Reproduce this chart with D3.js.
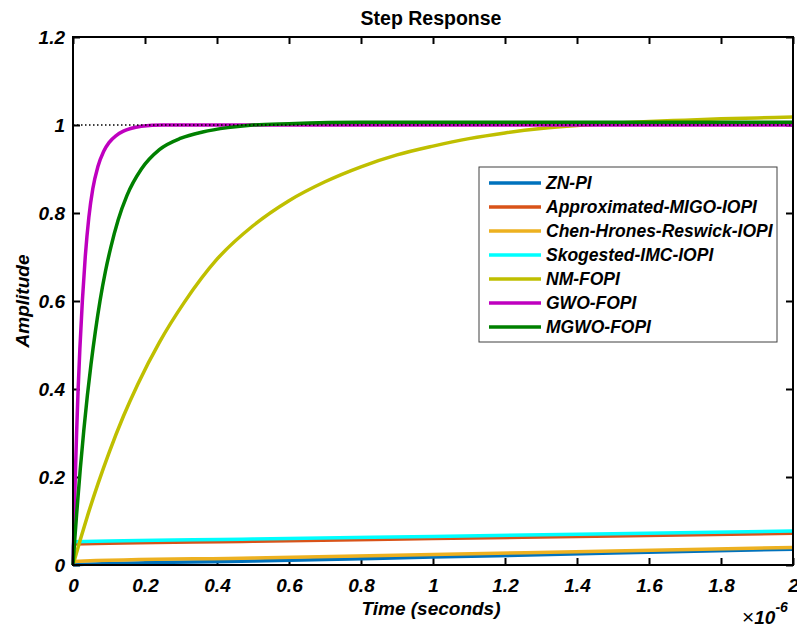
<!DOCTYPE html>
<html>
<head>
<meta charset="utf-8">
<script src="https://cdn.jsdelivr.net/npm/d3@7"></script>
<style>
  body { margin: 0; background: #fff; }
  svg text { font-family: "Liberation Sans", Arial, sans-serif; }
</style>
</head>
<body>
<div id="chart"></div>
<script>
// time in units of 1e-6 s
const lowTime = [0, 0.002, 0.5, 1, 1.5, 2];
const znPI    = [0, 0.0005, 0.009, 0.018, 0.027, 0.036];
const migoPI  = [0, 0.048, 0.054, 0.060, 0.066, 0.072];
const chrPI   = [0, 0.008, 0.016, 0.024, 0.032, 0.040];
const skogPI  = [0, 0.053, 0.059, 0.065, 0.071, 0.077];

const nmTime = [0, 0.02, 0.04, 0.07, 0.1, 0.14, 0.18, 0.24, 0.31, 0.4, 0.5, 0.6, 0.7, 0.8, 0.9, 1.0, 1.1, 1.2, 1.3, 1.4, 1.5, 1.6, 1.7, 1.8, 1.9, 2.0];
const nmFOPI = [0, 0.057, 0.111, 0.186, 0.255, 0.338, 0.411, 0.506, 0.598, 0.695, 0.771, 0.828, 0.871, 0.905, 0.932, 0.952, 0.969, 0.982, 0.992, 0.999, 1.004, 1.008, 1.011, 1.014, 1.016, 1.018];

const gwoTime = [0, 0.003, 0.006, 0.01, 0.014, 0.019, 0.026, 0.034, 0.044, 0.055, 0.069, 0.085, 0.1, 0.12, 0.14, 0.16, 0.19, 0.25, 0.4, 1, 2];
const gwoFOPI = [0, 0.1, 0.19, 0.3, 0.394, 0.49, 0.6, 0.7, 0.79, 0.855, 0.905, 0.94, 0.96, 0.976, 0.986, 0.992, 0.997, 1.0, 1.0, 1.0, 1.0];

const mgwoTime = [0, 0.004, 0.01, 0.02, 0.03, 0.04, 0.05, 0.062, 0.075, 0.09, 0.105, 0.125, 0.15, 0.19, 0.24, 0.3, 0.36, 0.43, 0.5, 0.6, 0.8, 1.0, 1.5, 2.0];
const mgwoFOPI = [0, 0.048, 0.115, 0.216, 0.306, 0.386, 0.456, 0.53, 0.6, 0.667, 0.722, 0.783, 0.84, 0.9, 0.944, 0.97, 0.984, 0.994, 1.0, 1.003, 1.006, 1.006, 1.006, 1.006];

const names = ["ZN-PI", "Approximated-MIGO-IOPI", "Chen-Hrones-Reswick-IOPI", "Skogested-IMC-IOPI", "NM-FOPI", "GWO-FOPI", "MGWO-FOPI"];
const colors = ["#0072BD", "#D95319", "#EDB120", "#00FFFF", "#BFBF00", "#BF00BF", "#008000"];

const xTicks = [0, 0.2, 0.4, 0.6, 0.8, 1, 1.2, 1.4, 1.6, 1.8, 2];
const xTickLabels = ["0", "0.2", "0.4", "0.6", "0.8", "1", "1.2", "1.4", "1.6", "1.8", "2"];
const yTicks = [0, 0.2, 0.4, 0.6, 0.8, 1, 1.2];
const yTickLabels = ["0", "0.2", "0.4", "0.6", "0.8", "1", "1.2"];

const series = [
  {t: lowTime, v: znPI},
  {t: lowTime, v: migoPI},
  {t: lowTime, v: chrPI},
  {t: lowTime, v: skogPI},
  {t: nmTime, v: nmFOPI},
  {t: gwoTime, v: gwoFOPI},
  {t: mgwoTime, v: mgwoFOPI}
];

const W = 797, H = 628;
const margin = {left: 73, right: 793, top: 37, bottom: 565};

const svg = d3.select("#chart").append("svg")
    .attr("width", W).attr("height", H);

const x = d3.scaleLinear().domain([0, 2]).range([margin.left, margin.right]);
const y = d3.scaleLinear().domain([0, 1.2]).range([margin.bottom, margin.top]);

const font = "bold italic 19px 'Liberation Sans', Arial, sans-serif";

// axes (ticks inward)
svg.append("g").attr("transform", `translate(0,${margin.bottom})`)
    .call(d3.axisBottom(x).tickValues(xTicks).tickSizeInner(-7).tickSizeOuter(0).tickPadding(14)
      .tickFormat((d, i) => xTickLabels[i]));
svg.append("g").attr("transform", `translate(${margin.left},0)`)
    .call(d3.axisLeft(y).tickValues(yTicks).tickSizeInner(-7).tickSizeOuter(0).tickPadding(8)
      .tickFormat((d, i) => yTickLabels[i]));
svg.append("g").attr("transform", `translate(0,${margin.top})`)
    .call(d3.axisTop(x).tickValues(xTicks).tickSizeInner(-7).tickSizeOuter(0).tickFormat(""));
svg.append("g").attr("transform", `translate(${margin.right},0)`)
    .call(d3.axisRight(y).tickValues(yTicks).tickSizeInner(-7).tickSizeOuter(0).tickFormat(""));

svg.selectAll(".domain").remove();
svg.selectAll(".tick line").attr("stroke", "#000").attr("stroke-width", 2);
svg.selectAll(".tick text").style("font", font).attr("fill", "#000");

// curves
const line = d3.line()
    .x(d => x(d[0]))
    .y(d => y(d[1]))
    .curve(d3.curveMonotoneX);

series.forEach((s, i) => {
  const pts = s.t.map((t, j) => [t, s.v[j]]);
  svg.append("path")
      .datum(pts)
      .attr("d", line)
      .attr("fill", "none")
      .attr("stroke", colors[i])
      .attr("stroke-width", 3.5);
});

// steady-state reference
svg.append("line")
    .attr("x1", x(0)).attr("x2", x(2))
    .attr("y1", y(1)).attr("y2", y(1))
    .attr("stroke", "#000").attr("stroke-width", 1.5)
    .attr("stroke-dasharray", "1.5,2.5");

// box
svg.append("rect")
    .attr("x", margin.left).attr("y", margin.top)
    .attr("width", margin.right - margin.left).attr("height", margin.bottom - margin.top)
    .attr("fill", "none").attr("stroke", "#000").attr("stroke-width", 2);

// titles
svg.append("text")
    .attr("x", (margin.left + margin.right) / 2 - 2).attr("y", 25)
    .attr("text-anchor", "middle")
    .style("font", "bold 19.5px 'Liberation Sans', Arial, sans-serif")
    .text("Step Response");

svg.append("text")
    .attr("x", (margin.left + margin.right) / 2 - 2).attr("y", 615)
    .attr("text-anchor", "middle")
    .style("font", font)
    .text("Time (seconds)");

svg.append("text")
    .attr("transform", `translate(29,${(margin.top + margin.bottom) / 2}) rotate(-90)`)
    .attr("text-anchor", "middle")
    .style("font", font)
    .text("Amplitude");

const exp = svg.append("text")
    .attr("x", 742).attr("y", 624)
    .style("font", font);
exp.append("tspan").style("font-weight", "normal").style("font-style", "normal").style("font-size", "21px").text("\u00d7");
exp.append("tspan").text("10");
exp.append("tspan").attr("dy", -12).style("font-size", "14px").text("-6");

// legend
const lg = svg.append("g");
lg.append("rect")
    .attr("x", 479).attr("y", 167)
    .attr("width", 298).attr("height", 175)
    .attr("fill", "#fff").attr("stroke", "#404040").attr("stroke-width", 1);

names.forEach((n, i) => {
  const ly = 183 + i * 24;
  lg.append("line")
      .attr("x1", 489).attr("x2", 541)
      .attr("y1", ly).attr("y2", ly)
      .attr("stroke", colors[i]).attr("stroke-width", 3.5);
  lg.append("text")
      .attr("x", 546).attr("y", ly).attr("dy", "0.35em")
      .style("font", "bold italic 17.5px 'Liberation Sans', Arial, sans-serif")
      .text(n);
});
</script>
</body>
</html>
